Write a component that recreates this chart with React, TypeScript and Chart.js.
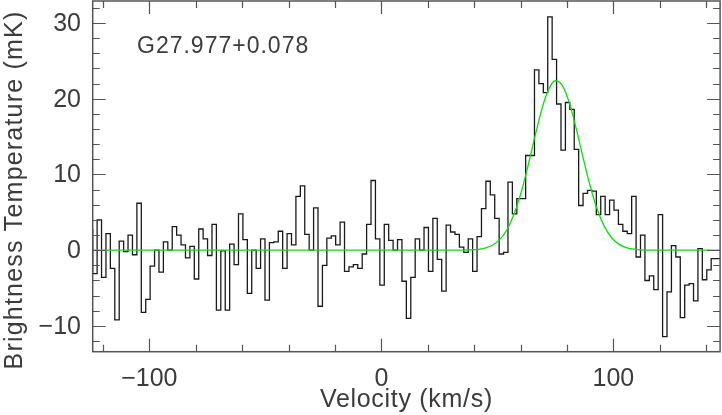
import React, { useEffect, useRef } from 'react';
import { Chart, registerables } from 'chart.js';

Chart.register(...registerables);

// Spectrum: brightness temperature (mK) per velocity channel
const VELOCITY_START = -124.4; // km/s, left edge of first channel
const CHANNEL_WIDTH = 1.904; // km/s
const TEMPERATURE = [
  2.8, -3.1, 4.0, -3.6, 2.2, -2.4, -9.2, 1.2, -0.2, 2.0,
  -0.6, 6.2, -8.2, -6.5, -2.1, 0.0, -2.9, 1.1, 0.0, 3.1,
  2.0, 0.7, -1.0, 0.5, -3.8, 2.8, 1.5, -0.7, 3.4, -7.9,
  -0.1, -7.9, 0.8, -1.9, 4.8, 1.4, -5.7, 0.0, -2.4, 1.5,
  -6.6, 1.0, 1.1, 2.5, -2.4, 2.2, 0.7, 7.1, 8.5, 2.1,
  0.0, 5.6, -7.4, -2.0, 1.6, 1.9, 0.7, 3.7, -2.8, -2.2,
  -1.9, -2.4, -0.5, 3.4, 9.2, 1.5, -4.6, 3.4, 1.3, 0.0,
  1.4, -4.1, -9.0, -3.6, 1.5, 0.0, 3.0, -2.8, 4.2, -1.2,
  -5.4, 3.3, 2.4, 2.1, 0.4, -0.3, 1.5, -2.8, 1.8, 5.5,
  9.1, 7.3, 4.2, -0.5, -0.3, 9.0, 4.8, 6.8, 6.8, 12.5,
  12.5, 23.8, 22.0, 20.8, 30.8, 25.2, 19.3, 13.2, 19.5, 18.6,
  13.3, 5.9, 7.5, 7.9, 7.8, 4.7, 7.1, 4.7, 6.6, 5.3,
  3.4, 2.5, 2.2, 7.1, -0.9, 2.0, -4.0, -3.4, -5.2, 4.7,
  -11.4, -5.5, 0.6, -0.9, -8.9, -4.6, -4.4, -6.7, 0.2, -3.9,
  -2.6, -1.1,
];

// Gaussian fit curve
const FIT_VELOCITY = [
  -124.4, 33, 36, 39, 42, 45, 48, 51, 54, 57, 60, 63, 66, 69, 72, 75,
  78, 81, 84, 87, 90, 93, 96, 99, 102, 105, 108, 111, 114, 117, 146,
];
const FIT_TEMPERATURE = [
  0, 0, 0.02, 0.05, 0.12, 0.3, 0.68, 1.4, 2.64, 4.61, 7.38, 10.88, 14.76, 18.43, 21.17, 22.37,
  21.76, 19.48, 16.04, 12.15, 8.47, 5.44, 3.21, 1.74, 0.87, 0.4, 0.17, 0.07, 0.02, 0, 0,
];

const X_MIN = -124.4;
const X_MAX = 146.0;
const Y_MIN = -13.4;
const Y_MAX = 32.9;

const X_TICK_LABELS = [-100, 0, 100];
const Y_TICK_LABELS = [-10, 0, 10, 20, 30];
const X_MINOR_TICKS = [-120, -100, -80, -60, -40, -20, 0, 20, 40, 60, 80, 100, 120, 140];
const Y_MINOR_TICKS = [-12, -10, -8, -6, -4, -2, 0, 2, 4, 6, 8, 10, 12, 14, 16, 18, 20, 22, 24, 26, 28, 30, 32];

const SOURCE_NAME = 'G27.977+0.078';
const X_TITLE = 'Velocity (km/s)';
const Y_TITLE = 'Brightness Temperature (mK)';

const fmt = (v: number) => (v < 0 ? '\u2212' + Math.abs(v) : String(v));

const framePlugin = {
  id: 'pgframe',
  afterDraw(chart: any) {
    const ctx = chart.ctx as any;
    const { left, right, top, bottom } = chart.chartArea;
    const xs = chart.scales.x;
    const ys = chart.scales.y;
    ctx.save();
    ctx.strokeStyle = '#555';
    ctx.lineWidth = 1.5;
    ctx.strokeRect(left, top, right - left, bottom - top);
    ctx.beginPath();
    X_MINOR_TICKS.forEach((v) => {
      const px = Math.round(xs.getPixelForValue(v)) + 0.5;
      const len = v % 100 === 0 ? 13 : 7;
      ctx.moveTo(px, bottom);
      ctx.lineTo(px, bottom - len);
      ctx.moveTo(px, top);
      ctx.lineTo(px, top + len);
    });
    Y_MINOR_TICKS.forEach((v) => {
      const py = Math.round(ys.getPixelForValue(v)) + 0.5;
      const len = v % 10 === 0 ? 13 : 7;
      ctx.moveTo(left, py);
      ctx.lineTo(left + len, py);
      ctx.moveTo(right, py);
      ctx.lineTo(right - len, py);
    });
    ctx.lineWidth = 1.2;
    ctx.stroke();

    ctx.fillStyle = '#3c3c3c';
    ctx.font = '25px "Liberation Sans"';
    ctx.letterSpacing = '0px';
    ctx.textAlign = 'center';
    ctx.textBaseline = 'middle';
    X_TICK_LABELS.forEach((v) => {
      ctx.fillText(fmt(v), xs.getPixelForValue(v), 379);
    });
    ctx.textAlign = 'right';
    Y_TICK_LABELS.forEach((v) => {
      ctx.fillText(fmt(v), 81, ys.getPixelForValue(v) + 1);
    });

    ctx.font = '25px "Liberation Sans"';
    ctx.letterSpacing = '0.7px';
    ctx.textAlign = 'center';
    ctx.fillText(X_TITLE, (left + right) / 2, 400);

    ctx.save();
    ctx.letterSpacing = '1.2px';
    ctx.translate(15, 190);
    ctx.rotate(-Math.PI / 2);
    ctx.fillText(Y_TITLE, 0, 0);
    ctx.restore();

    ctx.font = '23px "Liberation Sans"';
    ctx.letterSpacing = '1px';
    ctx.textAlign = 'left';
    ctx.fillText(SOURCE_NAME, 137, 47);
    ctx.restore();
  },
};

export default function App() {
  const ref = useRef<HTMLCanvasElement | null>(null);

  useEffect(() => {
    if (!ref.current) return;
    const stepPoints = TEMPERATURE.map((t, i) => ({ x: VELOCITY_START + i * CHANNEL_WIDTH, y: t }));
    stepPoints.push({
      x: VELOCITY_START + TEMPERATURE.length * CHANNEL_WIDTH,
      y: TEMPERATURE[TEMPERATURE.length - 1],
    });
    const fitPoints = FIT_VELOCITY.map((v, i) => ({ x: v, y: FIT_TEMPERATURE[i] }));

    const chart = new Chart(ref.current, {
      type: 'line',
      data: {
        datasets: [
          {
            data: fitPoints,
            borderColor: '#00e600',
            borderWidth: 1.3,
            pointRadius: 0,
            cubicInterpolationMode: 'monotone',
            fill: false,
            order: 0,
          },
          {
            data: stepPoints,
            borderColor: '#1a1a1a',
            borderWidth: 1.3,
            pointRadius: 0,
            stepped: 'after',
            fill: false,
            order: 1,
          },
        ],
      },
      options: {
        animation: false,
        responsive: false,
        events: [],
        layout: { padding: { left: 92.7, right: 1.9, top: 1, bottom: 63.3 } },
        scales: {
          x: { type: 'linear', min: X_MIN, max: X_MAX, display: false },
          y: { type: 'linear', min: Y_MIN, max: Y_MAX, display: false },
        },
        plugins: { legend: { display: false }, tooltip: { enabled: false } },
      },
      plugins: [framePlugin],
    } as any);
    return () => chart.destroy();
  }, []);

  return (
    <div style={{ position: 'fixed', left: 0, top: 0, width: 722, height: 415, background: '#fff' }}>
      <canvas ref={ref} width={722} height={415} style={{ display: 'block', width: 722, height: 415 }} />
    </div>
  );
}
